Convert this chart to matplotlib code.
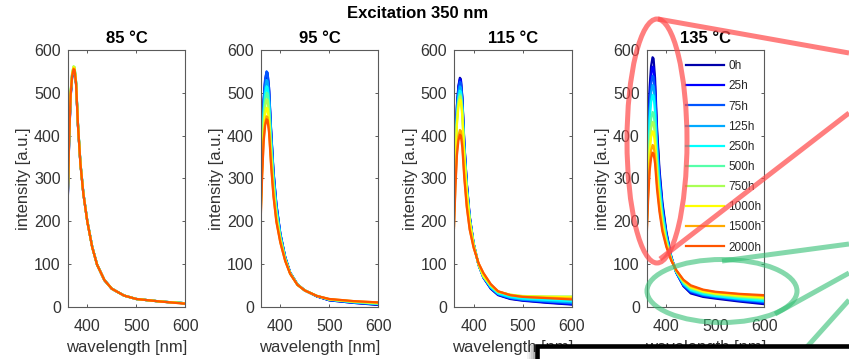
import matplotlib
matplotlib.use("Agg")
import matplotlib.pyplot as plt
from matplotlib.patches import Ellipse, Rectangle

plt.rcParams['font.family'] = ['Liberation Sans', 'DejaVu Sans']

# ---- data -----------------------------------------------------------------
wavelength = [360, 363, 366, 369, 372, 374, 377, 381, 386, 392,
              400, 410, 420, 435, 450, 475, 500, 550, 600]

aging_labels = ['0h', '25h', '75h', '125h', '250h', '500h',
                '750h', '1000h', '1500h', '2000h']

temperatures = ['85 °C', '95 °C', '115 °C', '135 °C']

# emission intensity [a.u.] per aging step, one row per label above
spectra_85 = [
    [240, 390, 490, 535, 552, 551, 521, 422, 333, 264, 200, 140, 98, 62, 42, 26, 18, 12, 8],
    [242, 392, 492, 537, 554, 553, 522, 423, 334, 264, 200, 140, 98, 62, 42, 26, 18, 12, 8],
    [245, 395, 495, 540, 557, 556, 524, 425, 335, 265, 200, 140, 98, 62, 42, 26, 18, 12, 8],
    [248, 397, 497, 542, 558, 557, 525, 426, 335, 265, 200, 140, 98, 62, 42, 26, 18, 12, 8],
    [252, 400, 499, 543, 559, 558, 526, 426, 336, 265, 200, 140, 98, 62, 42, 26, 18, 12, 8],
    [256, 403, 502, 545, 561, 560, 527, 427, 336, 265, 200, 140, 98, 62, 42, 26, 18, 12, 8],
    [258, 404, 503, 546, 562, 560, 527, 426, 335, 264, 200, 140, 98, 62, 42, 26, 18, 12, 8],
    [255, 401, 500, 544, 560, 558, 525, 425, 334, 264, 199, 139, 98, 62, 42, 26, 18, 12, 8],
    [250, 397, 497, 541, 557, 555, 523, 424, 334, 264, 199, 139, 98, 62, 42, 26, 18, 12, 7],
    [248, 395, 495, 539, 555, 553, 522, 423, 333, 263, 199, 139, 98, 62, 42, 26, 18, 12, 7],
]

spectra_95 = [
    [261, 380, 478, 524, 543, 540, 505, 413, 314, 237, 170, 116, 80, 52, 38, 24, 15, 9, 4],
    [264, 384, 483, 530, 549, 546, 511, 417, 317, 239, 171, 116, 80, 52, 38, 24, 15, 9, 5],
    [264, 385, 484, 531, 550, 547, 512, 418, 318, 240, 171, 116, 80, 52, 38, 24, 16, 10, 6],
    [254, 371, 466, 511, 530, 527, 493, 403, 306, 231, 168, 114, 79, 52, 38, 25, 16, 10, 6],
    [247, 361, 453, 497, 515, 512, 479, 391, 299, 227, 165, 113, 79, 52, 38, 25, 17, 11, 7],
    [240, 350, 440, 483, 500, 498, 465, 380, 291, 221, 162, 112, 79, 52, 38, 25, 17, 11, 7],
    [233, 340, 427, 468, 485, 483, 451, 369, 283, 215, 159, 111, 78, 51, 38, 25, 17, 12, 8],
    [223, 326, 409, 449, 465, 463, 432, 353, 272, 207, 155, 109, 78, 51, 38, 25, 17, 12, 9],
    [212, 312, 392, 429, 445, 443, 414, 338, 262, 200, 151, 107, 77, 51, 38, 25, 18, 13, 10],
    [203, 307, 385, 423, 438, 436, 407, 333, 258, 198, 150, 107, 77, 51, 38, 25, 18, 13, 10],
]

spectra_115 = [
    [246, 375, 471, 516, 535, 532, 490, 385, 290, 212, 148, 98, 68, 42, 27, 18, 14, 9, 5],
    [245, 372, 468, 513, 532, 529, 487, 383, 289, 211, 148, 98, 68, 43, 28, 19, 15, 10, 6],
    [242, 368, 463, 508, 526, 523, 482, 379, 286, 209, 147, 98, 69, 44, 29, 20, 16, 12, 8],
    [237, 361, 453, 497, 515, 512, 472, 372, 281, 207, 147, 99, 70, 45, 30, 21, 17, 13, 10],
    [232, 354, 444, 487, 505, 502, 463, 365, 277, 205, 146, 99, 70, 46, 31, 23, 19, 16, 13],
    [229, 348, 437, 480, 497, 495, 456, 360, 274, 203, 145, 99, 71, 49, 34, 27, 23, 21, 20],
    [226, 344, 433, 475, 492, 490, 451, 357, 272, 202, 145, 99, 71, 50, 35, 28, 25, 24, 24],
    [223, 339, 426, 467, 484, 482, 444, 352, 268, 200, 144, 100, 72, 50, 35, 28, 24, 23, 22],
    [189, 289, 363, 399, 413, 411, 382, 308, 237, 182, 139, 102, 78, 52, 36, 27, 23, 21, 19],
    [184, 281, 354, 388, 402, 400, 372, 300, 233, 180, 138, 102, 79, 53, 36, 27, 23, 20, 17],
]

spectra_135 = [
    [268, 408, 513, 563, 583, 580, 535, 420, 322, 244, 176, 118, 80, 48, 31, 23, 19, 12, 6],
    [258, 393, 494, 541, 561, 558, 515, 406, 312, 237, 172, 117, 81, 49, 33, 25, 21, 14, 8],
    [248, 378, 475, 521, 540, 537, 496, 392, 303, 231, 169, 116, 81, 50, 35, 26, 22, 15, 10],
    [238, 363, 456, 500, 518, 515, 477, 378, 293, 224, 166, 115, 82, 52, 37, 28, 24, 17, 12],
    [227, 347, 436, 478, 495, 493, 456, 363, 282, 217, 162, 114, 82, 54, 39, 30, 25, 19, 14],
    [208, 319, 400, 439, 455, 453, 420, 337, 265, 205, 155, 112, 83, 57, 42, 33, 28, 22, 18],
    [198, 302, 380, 417, 432, 430, 400, 322, 254, 198, 152, 111, 84, 58, 44, 35, 30, 24, 20],
    [187, 287, 361, 396, 410, 408, 380, 307, 244, 191, 148, 110, 85, 60, 46, 36, 31, 26, 22],
    [172, 265, 333, 365, 378, 376, 351, 287, 230, 182, 143, 109, 86, 62, 48, 39, 34, 29, 25],
    [164, 252, 317, 347, 360, 358, 335, 275, 222, 176, 140, 108, 86, 63, 50, 40, 35, 30, 27],
]

x_ticks = [400, 500, 600]
y_ticks = [0, 100, 200, 300, 400, 500, 600]

# jet colormap with 10 steps
line_colors = [
    (0.0, 0.0, 0.667), (0.0, 0.0, 1.0), (0.0, 0.333, 1.0), (0.0, 0.667, 1.0),
    (0.0, 1.0, 1.0), (0.333, 1.0, 0.667), (0.667, 1.0, 0.333), (1.0, 1.0, 0.0),
    (1.0, 0.667, 0.0), (1.0, 0.333, 0.0),
]

# ---- figure ---------------------------------------------------------------
W, H = 849, 359
fig = plt.figure(figsize=(W / 100, H / 100), dpi=100)
fig.patch.set_facecolor('white')

axis_grey = '#5a5a5a'
text_grey = '#333333'

lefts_px = [67.7, 260.7, 454.0, 646.7]
ax_w_px = 117.6
top_px, bot_px = 50.0, 306.7

all_spectra = [spectra_85, spectra_95, spectra_115, spectra_135]
axes = []
for left, title, spectra in zip(lefts_px, temperatures, all_spectra):
    ax = fig.add_axes([left / W, 1 - bot_px / H, ax_w_px / W, (bot_px - top_px) / H])
    for spec, color, label in zip(spectra, line_colors, aging_labels):
        ax.plot(wavelength, spec, color=color, lw=1.6, label=label,
                solid_joinstyle='round')
    ax.set_xlim(360, 600)
    ax.set_ylim(0, 600)
    ax.set_xticks(x_ticks)
    ax.set_yticks(y_ticks)
    ax.tick_params(direction='in', top=True, right=True, length=2.5, width=0.7,
                   colors=axis_grey, labelcolor=text_grey, labelsize=11.5)
    ax.tick_params(axis='y', pad=5)
    ax.tick_params(axis='x', pad=8.5)
    for sp in ax.spines.values():
        sp.set_color(axis_grey)
        sp.set_linewidth(0.8)
    ax.set_title(title, fontsize=12, fontweight='bold', color='black', pad=5)
    ax.set_xlabel('wavelength [nm]', fontsize=12, color=text_grey, labelpad=5)
    ax.set_ylabel('intensity [a.u.]', fontsize=12, color=text_grey, labelpad=2)
    axes.append(ax)

leg = axes[3].legend(loc='upper left', bbox_to_anchor=(0.332, 0.960),
                     frameon=False, fontsize=8.5, handlelength=3.2,
                     handletextpad=0.4, labelspacing=0.69, borderpad=0,
                     borderaxespad=0)
for t in leg.get_texts():
    t.set_color('#262626')

fig.text(418 / W, 1 - 13 / H, 'Excitation 350 nm', ha='center', va='center',
         fontsize=12, fontweight='bold', color='black')

# ---- highlight overlay (pixel coordinates) --------------------------------
ov = fig.add_axes([0, 0, 1, 1], zorder=10)
ov.set_xlim(0, W)
ov.set_ylim(H, 0)
ov.axis('off')

pt = 0.72  # points per pixel
red = (1.0, 0.3, 0.3)
green = (0.2, 0.75, 0.45)

ov.add_patch(Ellipse((657, 141), 60, 244, fill=False, ec=red, lw=5 * pt, alpha=0.72))
ov.plot([658, 849], [19, 53], color=red, lw=5 * pt, alpha=0.72, solid_capstyle='butt')
ov.plot([660, 849], [259, 113], color=red, lw=5 * pt, alpha=0.72, solid_capstyle='butt')

ov.add_patch(Ellipse((722, 291), 150, 63, fill=False, ec=green, lw=5 * pt, alpha=0.6))
ov.plot([722, 849], [261, 244], color=green, lw=5 * pt, alpha=0.6, solid_capstyle='butt')
ov.plot([775, 849], [314, 273], color=green, lw=5 * pt, alpha=0.6, solid_capstyle='butt')
ov.plot([806, 849], [348, 300], color=green, lw=5 * pt, alpha=0.6, solid_capstyle='butt')

# framed box along the bottom edge, with a soft shadow at its left side
for k, a in enumerate([0.06, 0.12, 0.2, 0.3]):
    ov.add_patch(Rectangle((527 + 2 * k, 345), 2, 20, fc='black', ec='none', alpha=a, zorder=3))
ov.add_patch(Rectangle((537, 345.5), 330, 40, fc='white', ec='black', lw=4.6 * pt, zorder=4))

fig.savefig('out.png', dpi=100, facecolor='white')
